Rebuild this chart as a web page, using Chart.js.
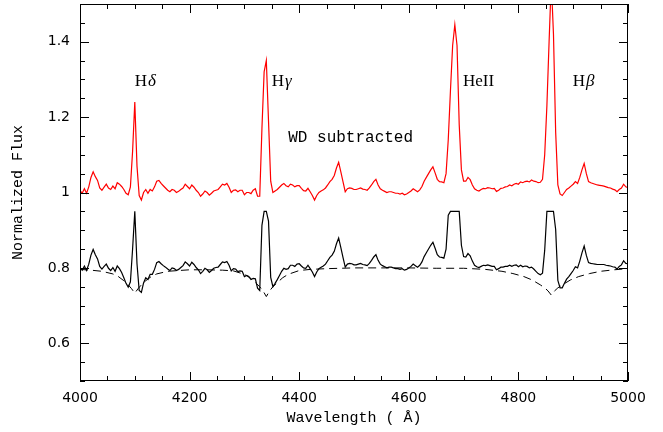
<!DOCTYPE html>
<html>
<head>
<meta charset="utf-8">
<script src="https://cdn.jsdelivr.net/npm/chart.js@4.4.1/dist/chart.umd.min.js"></script>
<style>
  html, body { margin: 0; padding: 0; background: #fff; }
  #wrap { width: 663px; height: 432px; }
</style>
</head>
<body>
<div id="wrap"><canvas id="spectrumChart" width="663" height="432"></canvas></div>
<script>
// spectra are sampled every 4 A from 4000 to 5000
const waveStart = 4000;
const waveStep = 4;
const wavelengths = Array.from({ length: 251 }, (_, i) => waveStart + i * waveStep);

// red: spectrum with the white dwarf subtracted
const fluxSubtracted = [
    1.005, 0.998, 1.010, 0.998, 1.015, 1.040, 1.055, 1.042, 1.032, 1.012,
    1.006, 1.014, 1.022, 1.012, 1.008, 1.017, 1.010, 1.026, 1.022, 1.016,
    1.008, 0.998, 0.994, 1.015, 1.110, 1.240, 1.070, 0.992, 0.980, 1.000,
    1.008, 0.998, 1.008, 1.004, 1.015, 1.030, 1.032, 1.024, 1.018, 1.012,
    1.006, 1.002, 1.008, 1.006, 1.000, 1.003, 1.008, 1.012, 1.022, 1.016,
    1.010, 1.020, 1.014, 1.006, 1.000, 0.990, 0.996, 1.004, 1.000, 0.993,
    0.998, 1.004, 1.006, 1.008, 1.015, 1.022, 1.020, 1.024, 1.014, 1.000,
    1.006, 1.007, 1.002, 1.006, 1.006, 0.994, 1.000, 1.000, 0.997, 1.006,
    1.010, 0.990, 0.990, 1.170, 1.320, 1.350, 1.190, 1.030, 1.000, 1.004,
    1.008, 1.014, 1.020, 1.024, 1.018, 1.015, 1.022, 1.020, 1.015, 1.018,
    1.018, 1.011, 1.005, 1.004, 1.011, 1.002, 0.992, 0.980, 0.992, 1.000,
    1.004, 1.007, 1.012, 1.020, 1.029, 1.035, 1.045, 1.065, 1.080, 1.055,
    1.028, 1.002, 1.010, 1.012, 1.011, 1.008, 1.008, 1.010, 1.012, 1.009,
    1.008, 1.006, 1.012, 1.020, 1.029, 1.035, 1.020, 1.010, 1.006, 1.003,
    1.000, 1.002, 1.002, 1.000, 0.998, 0.998, 0.996, 0.998, 0.994, 0.996,
    1.000, 1.004, 1.010, 1.006, 1.002, 1.007, 1.016, 1.030, 1.040, 1.050,
    1.060, 1.068, 1.052, 1.035, 1.029, 1.028, 1.026, 1.050, 1.140, 1.270,
    1.390, 1.445, 1.390, 1.180, 1.060, 1.030, 1.030, 1.040, 1.034, 1.020,
    1.010, 1.006, 1.004, 1.008, 1.011, 1.010, 1.013, 1.012, 1.010, 1.011,
    1.003, 1.006, 1.011, 1.012, 1.015, 1.016, 1.020, 1.018, 1.022, 1.024,
    1.022, 1.028, 1.026, 1.029, 1.030, 1.028, 1.033, 1.030, 1.029, 1.026,
    1.027, 1.035, 1.100, 1.230, 1.400, 1.560, 1.420, 1.160, 1.020, 0.996,
    0.992, 1.000, 1.008, 1.012, 1.017, 1.022, 1.029, 1.024, 1.040, 1.060,
    1.077, 1.050, 1.029, 1.026, 1.024, 1.022, 1.020, 1.019, 1.018, 1.017,
    1.015, 1.013, 1.012, 1.009, 1.007, 1.002, 1.008, 1.012, 1.022, 1.015,
    1.013
];

// black: observed spectrum (emission cores cut at 0.95)
const fluxObserved = [
    0.801, 0.794, 0.805, 0.793, 0.810, 0.834, 0.849, 0.835, 0.824, 0.804,
    0.797, 0.804, 0.810, 0.799, 0.793, 0.801, 0.791, 0.805, 0.798, 0.788,
    0.774, 0.759, 0.749, 0.763, 0.851, 0.950, 0.811, 0.740, 0.735, 0.760,
    0.774, 0.769, 0.783, 0.783, 0.796, 0.814, 0.817, 0.811, 0.806, 0.802,
    0.797, 0.793, 0.800, 0.798, 0.793, 0.796, 0.801, 0.806, 0.816, 0.811,
    0.805, 0.815, 0.809, 0.801, 0.795, 0.785, 0.791, 0.799, 0.795, 0.788,
    0.793, 0.799, 0.801, 0.802, 0.809, 0.816, 0.814, 0.817, 0.807, 0.792,
    0.798, 0.797, 0.790, 0.792, 0.791, 0.777, 0.780, 0.777, 0.769, 0.772,
    0.771, 0.746, 0.740, 0.913, 0.950, 0.950, 0.924, 0.775, 0.750, 0.759,
    0.769, 0.780, 0.791, 0.799, 0.796, 0.798, 0.807, 0.807, 0.804, 0.810,
    0.811, 0.805, 0.800, 0.799, 0.807, 0.798, 0.789, 0.777, 0.789, 0.798,
    0.802, 0.805, 0.810, 0.819, 0.828, 0.834, 0.844, 0.864, 0.879, 0.854,
    0.827, 0.802, 0.810, 0.812, 0.811, 0.808, 0.808, 0.810, 0.812, 0.809,
    0.808, 0.806, 0.812, 0.820, 0.829, 0.835, 0.820, 0.810, 0.806, 0.803,
    0.800, 0.802, 0.802, 0.800, 0.798, 0.798, 0.796, 0.798, 0.794, 0.796,
    0.800, 0.804, 0.810, 0.806, 0.802, 0.807, 0.816, 0.830, 0.840, 0.850,
    0.860, 0.868, 0.852, 0.835, 0.829, 0.828, 0.826, 0.850, 0.940, 0.950,
    0.950, 0.950, 0.950, 0.950, 0.860, 0.830, 0.829, 0.838, 0.832, 0.818,
    0.807, 0.803, 0.801, 0.804, 0.807, 0.806, 0.808, 0.806, 0.804, 0.804,
    0.795, 0.798, 0.802, 0.802, 0.804, 0.804, 0.807, 0.804, 0.807, 0.808,
    0.803, 0.807, 0.803, 0.805, 0.804, 0.800, 0.802, 0.797, 0.791, 0.785,
    0.782, 0.786, 0.847, 0.950, 0.950, 0.950, 0.950, 0.902, 0.767, 0.747,
    0.747, 0.759, 0.770, 0.777, 0.785, 0.793, 0.803, 0.800, 0.818, 0.840,
    0.858, 0.833, 0.814, 0.812, 0.811, 0.810, 0.809, 0.809, 0.809, 0.809,
    0.807, 0.806, 0.805, 0.803, 0.802, 0.797, 0.804, 0.808, 0.819, 0.812,
    0.811
];

// dashed: white dwarf model
const wdWave = [
    4000, 4020, 4040, 4060, 4070, 4080, 4088, 4094, 4100, 4106,
    4112, 4120, 4130, 4140, 4160, 4180, 4200, 4230, 4260, 4280,
    4300, 4310, 4320, 4328, 4334, 4340, 4346, 4352, 4360, 4370,
    4380, 4400, 4420, 4450, 4500, 4550, 4600, 4650, 4700, 4740,
    4770, 4790, 4810, 4825, 4840, 4848, 4854, 4860, 4866, 4872,
    4880, 4895, 4910, 4930, 4950, 4975, 5000
];
const wdFlux = [
    0.796, 0.794, 0.791, 0.784, 0.777, 0.766, 0.755, 0.745, 0.733, 0.745,
    0.755, 0.766, 0.777, 0.784, 0.791, 0.793, 0.795, 0.795, 0.794, 0.792,
    0.783, 0.774, 0.761, 0.750, 0.739, 0.724, 0.739, 0.750, 0.761, 0.774,
    0.783, 0.793, 0.796, 0.798, 0.800, 0.800, 0.800, 0.799, 0.799, 0.796,
    0.791, 0.785, 0.777, 0.768, 0.755, 0.747, 0.739, 0.728, 0.739, 0.747,
    0.755, 0.768, 0.777, 0.785, 0.791, 0.795, 0.798
];

const xTicks = [4000, 4200, 4400, 4600, 4800, 5000];
const yTicks = [0.6, 0.8, 1, 1.2, 1.4];

const lineLabels = [
    { name: "H", greek: "δ", wave: 4100, flux: 1.283 },
    { name: "H", greek: "γ", wave: 4350, flux: 1.283 },
    { name: "HeII", greek: "", wave: 4699, flux: 1.283 },
    { name: "H", greek: "β", wave: 4899, flux: 1.283 }
];

function toPoints(xs, ys) {
    return xs.map((x, i) => ({ x: x, y: ys[i] }));
}

// inward ticks on all four sides + frame
const frameTicks = {
    id: "frameTicks",
    afterDatasetsDraw(chart) {
        const { ctx, chartArea: a, scales: { x, y } } = chart;
        ctx.save();
        ctx.strokeStyle = "#000";
        ctx.lineWidth = 1;
        ctx.beginPath();
        for (let v = 4000; v <= 5000; v += 50) {
            const px = Math.round(x.getPixelForValue(v)) + 0.5;
            const len = v % 200 === 0 ? 9 : 5;
            ctx.moveTo(px, a.bottom);
            ctx.lineTo(px, a.bottom - len);
            ctx.moveTo(px, a.top);
            ctx.lineTo(px, a.top + len);
        }
        for (let i = 0; i <= 20; i++) {
            const py = Math.round(y.getPixelForValue(0.5 + i * 0.05)) + 0.5;
            const len = i % 4 === 2 ? 9 : 5;
            ctx.moveTo(a.left, py);
            ctx.lineTo(a.left + len, py);
            ctx.moveTo(a.right, py);
            ctx.lineTo(a.right - len, py);
        }
        ctx.stroke();
        ctx.strokeRect(Math.round(a.left) + 0.5, Math.round(a.top) + 0.5,
            Math.round(a.width) - 1, Math.round(a.height) - 1);
        ctx.restore();
    }
};

const plotLabels = {
    id: "plotLabels",
    afterDraw(chart) {
        const { ctx, scales: { x, y } } = chart;
        ctx.save();
        ctx.fillStyle = "#000";
        ctx.textBaseline = "alphabetic";
        ctx.textAlign = "left";
        lineLabels.forEach(l => {
            const px = x.getPixelForValue(l.wave);
            const py = y.getPixelForValue(l.flux);
            ctx.font = "17px 'Liberation Serif'";
            ctx.fillText(l.name, px, py);
            if (l.greek) {
                const w = ctx.measureText(l.name).width;
                ctx.font = "italic 17px 'Liberation Serif'";
                ctx.fillText(l.greek, px + w + 1, py);
            }
        });
        ctx.font = "16px 'Liberation Mono'";
        ctx.fillText("WD subtracted", x.getPixelForValue(4380), y.getPixelForValue(1.134));
        ctx.restore();
    }
};

function noPad(s) {
    s.paddingTop = 0;
    s.paddingBottom = 0;
    s.paddingLeft = 0;
    s.paddingRight = 0;
}

const ctx = document.getElementById("spectrumChart").getContext("2d");

new Chart(ctx, {
    type: "line",
    data: {
        datasets: [
            {
                data: toPoints(wdWave, wdFlux),
                borderColor: "#000",
                borderWidth: 1,
                borderDash: [8, 5]
            },
            {
                data: toPoints(wavelengths, fluxObserved),
                borderColor: "#000",
                borderWidth: 1.2
            },
            {
                data: toPoints(wavelengths, fluxSubtracted),
                borderColor: "#ff0000",
                borderWidth: 1.2
            }
        ]
    },
    options: {
        responsive: false,
        animation: false,
        layout: { padding: { top: 4, right: 35, left: 0, bottom: 0 } },
        elements: { point: { radius: 0 }, line: { tension: 0 } },
        plugins: { legend: { display: false }, tooltip: { enabled: false } },
        scales: {
            x: {
                type: "linear",
                min: 4000,
                max: 5000,
                afterBuildTicks: s => { s.ticks = xTicks.map(v => ({ value: v })); },
                afterFit: s => { s.height = 51; noPad(s); },
                grid: { display: false, drawTicks: false },
                border: { display: false },
                ticks: {
                    color: "#000",
                    font: { family: "DejaVu Sans", size: 14 },
                    padding: 9,
                    maxRotation: 0,
                    autoSkip: false,
                    callback: v => String(v)
                },
                title: {
                    display: true,
                    text: "Wavelength ( Å)",
                    color: "#000",
                    font: { family: "Liberation Mono", size: 15 },
                    padding: { top: 0, bottom: 5 }
                }
            },
            y: {
                type: "linear",
                min: 0.5,
                max: 1.5,
                afterBuildTicks: s => { s.ticks = yTicks.map(v => ({ value: v })); },
                afterFit: s => { s.width = 80; noPad(s); },
                grid: { display: false, drawTicks: false },
                border: { display: false },
                ticks: {
                    color: "#000",
                    font: { family: "DejaVu Sans", size: 14 },
                    padding: 10,
                    callback: v => String(v)
                },
                title: {
                    display: true,
                    text: "Normalized Flux",
                    color: "#000",
                    font: { family: "Liberation Mono", size: 15 },
                    padding: { top: 9, bottom: 0 }
                }
            }
        }
    },
    plugins: [frameTicks, plotLabels]
});
</script>
</body>
</html>
